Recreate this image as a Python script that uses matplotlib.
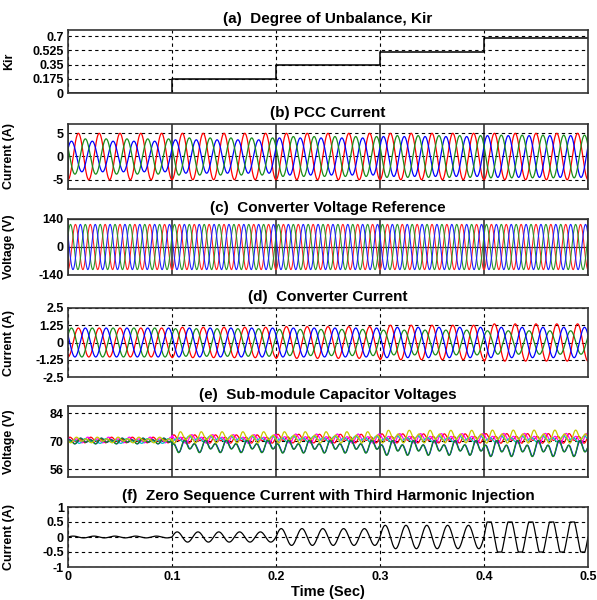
import numpy as np
import matplotlib
matplotlib.use('Agg')
from matplotlib import pyplot as plt

plt.rcParams['font.family'] = ['Liberation Sans', 'DejaVu Sans']
plt.rcParams['font.weight'] = 'bold'
plt.rcParams['axes.unicode_minus'] = False

# segment edges (s) and per-segment values
seg_edges = [0.0, 0.1, 0.2, 0.3, 0.4, 0.5]
kir_levels = [0.0, 0.175, 0.35, 0.51, 0.675]

# (b) PCC current peak per phase (A), 50 Hz
pcc_red = [5.0, 5.0, 5.0, 5.0, 5.0]
pcc_blue = [3.3, 3.6, 4.0, 4.3, 4.5]
pcc_green = [3.8, 4.0, 4.3, 4.5, 4.6]

# (c) converter voltage reference peak (V)
vref_amp = [113, 113, 113, 113, 113]

# (d) converter current peak per phase (A)
conv_red = [1.05, 1.1, 1.15, 1.25, 1.35]
conv_blue = [1.05, 1.05, 1.05, 1.1, 1.1]
conv_green = [1.05, 1.0, 0.95, 0.9, 0.85]

# (e) sub-module capacitor voltages: centre and ripple per segment (V)
cap_names = ['red', 'magenta', 'cyan', 'blue', 'green', 'yellow']
cap_colors = ['#ff0000', '#ff00ff', '#00c8c8', '#0000ff', '#1a8c1a', '#c8c800']
cap_center = {
    'red': [70.5, 71.0, 71.2, 71.3, 71.3],
    'magenta': [70.5, 71.0, 71.2, 71.3, 71.3],
    'cyan': [70.0, 71.0, 71.0, 71.0, 71.0],
    'blue': [70.0, 67.4, 67.3, 66.6, 66.3],
    'green': [70.0, 67.3, 67.2, 66.5, 66.2],
    'yellow': [70.5, 71.8, 71.8, 72.2, 72.2],
}
cap_ripple = {
    'red': [1.3, 1.9, 2.0, 2.1, 2.2],
    'magenta': [1.3, 2.0, 2.1, 2.2, 2.3],
    'cyan': [1.1, 1.3, 1.3, 1.4, 1.4],
    'blue': [1.3, 2.8, 2.9, 3.3, 3.6],
    'green': [1.3, 2.9, 3.0, 3.4, 3.7],
    'yellow': [1.3, 2.6, 2.6, 2.9, 3.0],
}
cap_phase = [0.3, 1.2, 2.0, 3.3, 3.4, 4.6]

# (f) zero sequence current peak (A)
zero_amp = [0.03, 0.17, 0.28, 0.39, 0.62]

t = np.linspace(0, 0.5, 6001)
seg = np.clip(np.searchsorted(seg_edges, t, side='right') - 1, 0, 4)
w = 2 * np.pi * 50
tp = 2 * np.pi / 3


def wave(amps, freq, ph):
    return np.asarray(amps)[seg] * np.sin(2 * np.pi * freq * t + ph)


fig = plt.figure(figsize=(5.97, 6.0), dpi=100)
left, width = 68 / 597, 520 / 597
boxes = [(30, 93), (124, 189), (219, 275), (308, 377), (406, 477), (507, 567)]
axes = []
for top, bot in boxes:
    ax = fig.add_axes([left, 1 - bot / 600, width, (bot - top) / 600])
    axes.append(ax)

titles = ['(a)  Degree of Unbalance, Kir', '(b) PCC Current',
          '(c)  Converter Voltage Reference', '(d)  Converter Current',
          '(e)  Sub-module Capacitor Voltages',
          '(f)  Zero Sequence Current with Third Harmonic Injection']
ylabels = ['Kir', 'Current (A)', 'Voltage (V)', 'Current (A)', 'Voltage (V)', 'Current (A)']

# (a)
ax = axes[0]
ax.step(seg_edges, kir_levels + [kir_levels[-1]], where='post', color='black', lw=1.1)
ax.set_ylim(0, 0.775)
ax.set_yticks([0, 0.175, 0.35, 0.525, 0.7])
ax.set_yticklabels(['0', '0.175', '0.35', '0.525', '0.7'])

# (b)
ax = axes[1]
ax.plot(t, wave(pcc_red, 50, -np.pi / 2), color='#ff0000', lw=0.9)
ax.plot(t, wave(pcc_blue, 50, -np.pi / 2 + tp), color='#0000ff', lw=0.9)
ax.plot(t, wave(pcc_green, 50, -np.pi / 2 - tp), color='#1a8c1a', lw=0.9)
ax.set_ylim(-7, 7)
ax.set_yticks([-5, 0, 5])

# (c)
ax = axes[2]
ax.plot(t, wave(vref_amp, 70, -np.pi / 2), color='#ff2020', lw=0.8)
ax.plot(t, wave(vref_amp, 70, -np.pi / 2 + tp), color='#2a962a', lw=0.8)
ax.plot(t, wave(vref_amp, 70, -np.pi / 2 - tp), color='#2020ff', lw=0.8)
ax.set_ylim(-140, 140)
ax.set_yticks([-140, 0, 140])

# (d)
ax = axes[3]
ax.plot(t, wave(conv_red, 50, -np.pi / 2), color='#ff0000', lw=0.9)
ax.plot(t, wave(conv_green, 50, -np.pi / 2 + tp), color='#1a8c1a', lw=0.9)
ax.plot(t, wave(conv_blue, 50, -np.pi / 2 - tp), color='#0000ff', lw=0.9)
ax.set_ylim(-2.5, 2.5)
ax.set_yticks([-2.5, -1.25, 0, 1.25, 2.5])
ax.set_yticklabels(['-2.5', '-1.25', '0', '1.25', '2.5'])

# (e)
ax = axes[4]
for name, col, ph in zip(cap_names, cap_colors, cap_phase):
    amp = np.asarray(cap_ripple[name])[seg]
    v = np.asarray(cap_center[name])[seg] + amp * (0.45 * np.sin(w * t + ph) + 0.75 * np.sin(2 * w * t + 2 * ph))
    ax.plot(t, v, color=col, lw=0.9)
ax.set_ylim(52, 87.5)
ax.set_yticks([56, 70, 84])

# (f)
ax = axes[5]
z = np.clip(wave(zero_amp, 50, 0), -0.5, 0.5)
ax.plot(t, z, color='black', lw=0.9)
ax.set_ylim(-1, 1)
ax.set_yticks([-1, -0.5, 0, 0.5, 1])
ax.set_yticklabels(['-1', '-0.5', '0', '0.5', '1'])

solid_vert = [1, 2, 4]
for i, (ax, title, yl) in enumerate(zip(axes, titles, ylabels)):
    ax.set_xlim(0, 0.5)
    ax.set_xticks([0, 0.1, 0.2, 0.3, 0.4, 0.5])
    if i in solid_vert:
        ax.xaxis.grid(True, color='#222222', linestyle='-', lw=1.1)
    else:
        ax.xaxis.grid(True, color='black', linestyle=(0, (3, 3)), lw=0.8)
    if i == 2:
        ax.yaxis.grid(True, color='#222222', linestyle='-', lw=0.9)
    else:
        ax.yaxis.grid(True, color='black', linestyle=(0, (3, 3)), lw=0.8)
    ax.set_axisbelow(True)
    ax.set_title(title, fontsize=11, fontweight='bold', pad=5)
    ax.set_ylabel(yl, fontsize=9, fontweight='bold')
    ax.yaxis.set_label_coords(-0.102, 0.5)
    ax.tick_params(direction='in', length=0, labelsize=9, pad=3)
    for s in ax.spines.values():
        s.set_color('#333333')
        s.set_linewidth(1.2)
    if ax is not axes[-1]:
        ax.set_xticklabels([])

axes[-1].set_xticklabels(['0', '0.1', '0.2', '0.3', '0.4', '0.5'])
axes[-1].set_xlabel('Time (Sec)', fontsize=10.5, fontweight='bold', labelpad=1)

fig.savefig('out.png', dpi=100)
